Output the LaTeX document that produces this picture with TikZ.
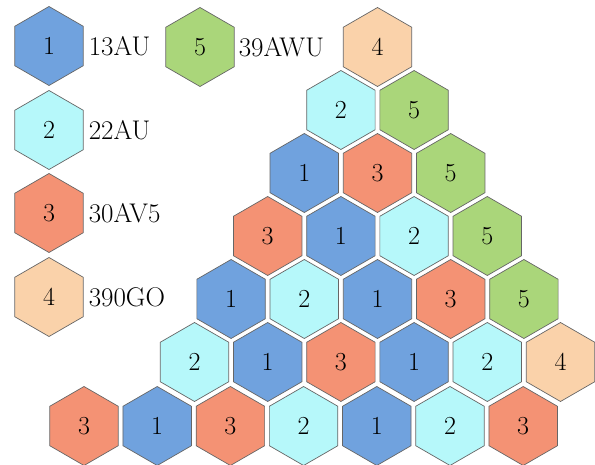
\documentclass[tikz,border=0pt]{standalone}
\usepackage{fontspec}
\usepackage{xcolor}
\usetikzlibrary{shapes.geometric, positioning}

\definecolor{hexblue}{RGB}{112,162,222}
\definecolor{hexcyan}{RGB}{182,248,250}
\definecolor{hexred}{RGB}{244,146,116}
\definecolor{hexpeach}{RGB}{250,210,170}
\definecolor{hexgreen}{RGB}{170,214,122}

\begin{document}
\begin{tikzpicture}[x=1pt, y=-1pt,
    hexcell/.style={regular polygon, regular polygon sides=6, shape border rotate=30,
        minimum size=79pt, inner sep=0pt, draw=black!60, line width=0.7pt,
        font=\fontsize{26}{31}\selectfont},
    lbl/.style={anchor=west, inner sep=0pt, font=\fontsize{27}{32}\selectfont},
    t1/.style={fill=hexblue},
    t2/.style={fill=hexcyan},
    t3/.style={fill=hexred},
    t4/.style={fill=hexpeach},
    t5/.style={fill=hexgreen}]
\useasboundingbox (0,0) rectangle (595,465);

% Legend
\foreach \k/\y/\name in {1/46/13AU, 2/130/22AU, 3/213/30AV5, 4/297/390GO} {
    \node[hexcell, t\k] (key\k) at (49,\y) {\k};
    \node[lbl, right=5pt of key\k] (lab\k) {\name};
}
\node[hexcell, t5] (key5) at (200,47) {5};
\node[lbl, right=4pt of key5] (lab5) {39AWU};

% Triangle rows
\foreach \r/\vals in {0/{4}, 1/{2,5}, 2/{1,3,5}, 3/{3,1,2,5}, 4/{1,2,1,3,5}, 5/{2,1,3,1,2,4}} {
    \foreach \v [count=\c from 0] in \vals {
        \node[hexcell, t\v] (hex-\r-\c) at (377.5-36.6*\r+73.2*\c, 47+63*\r) {\v};
    }
}

% Bottom row, one cell further left
\foreach \v [count=\c from 0] in {3,1,3,2,1,2,3} {
    \node[hexcell, t\v] (hex-6-\c) at (84+73.2*\c, 426) {\v};
}

\end{tikzpicture}
\end{document}
